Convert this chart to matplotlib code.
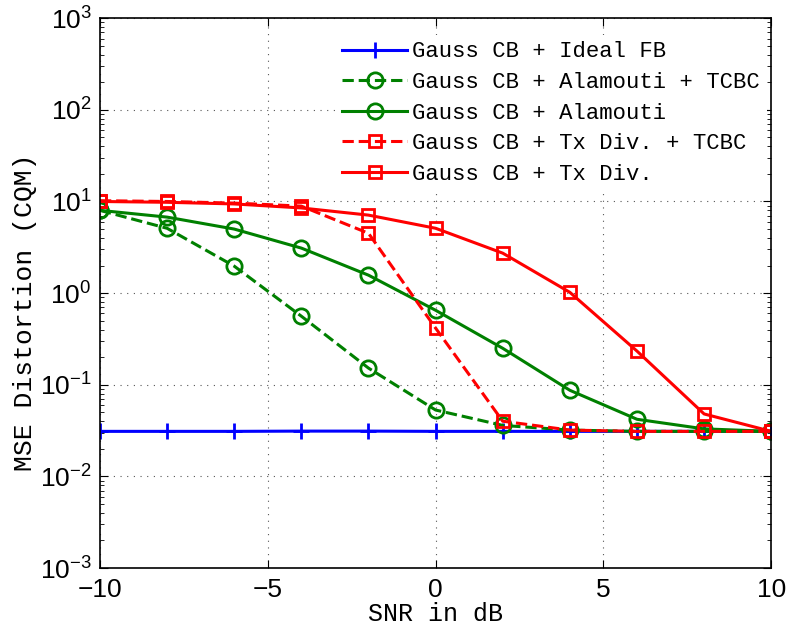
import matplotlib
matplotlib.use("Agg")
import matplotlib.pyplot as plt
import numpy as np

snr = [-10, -8, -6, -4, -2, 0, 2, 4, 6, 8, 10]
ideal_fb = [0.031, 0.031, 0.031, 0.0312, 0.0312, 0.031, 0.031, 0.031, 0.031, 0.031, 0.031]
alam_tcbc = [8.0, 5.1, 1.97, 0.56, 0.152, 0.053, 0.036, 0.032, 0.031, 0.031, 0.031]
alam = [8.0, 6.75, 5.0, 3.1, 1.57, 0.65, 0.25, 0.087, 0.042, 0.033, 0.031]
txdiv_tcbc = [10.2, 10.0, 9.6, 8.9, 4.5, 0.415, 0.040, 0.032, 0.031, 0.031, 0.031]
txdiv = [10.0, 9.8, 9.4, 8.5, 7.1, 5.1, 2.73, 1.02, 0.233, 0.048, 0.031]

labels = ["Gauss CB + Ideal FB", "Gauss CB + Alamouti + TCBC", "Gauss CB + Alamouti",
          "Gauss CB + Tx Div. + TCBC", "Gauss CB + Tx Div."]

plt.rcParams["font.family"] = ["Liberation Sans", "DejaVu Sans"]
plt.rcParams["mathtext.fontset"] = "custom"
plt.rcParams["mathtext.rm"] = "Liberation Sans"
plt.rcParams["mathtext.it"] = "Liberation Sans:italic"
plt.rcParams["mathtext.bf"] = "Liberation Sans:bold"
mono = "Liberation Mono"

fig = plt.figure(figsize=(7.87, 6.28), dpi=100)
ax = fig.add_axes([0.127, 0.0955, 0.853, 0.8755])

green = (0, 0.5, 0)
kw = dict(lw=2.2, markeredgewidth=2, markerfacecolor="none")
ax.semilogy(snr, ideal_fb, color="blue", marker="+", markersize=11, label=labels[0], **kw)
ax.semilogy(snr, alam_tcbc, color=green, ls="--", marker="o", markersize=11, label=labels[1], **kw)
ax.semilogy(snr, alam, color=green, ls="-", marker="o", markersize=11, label=labels[2], **kw)
ax.semilogy(snr, txdiv_tcbc, color="red", ls="--", marker="s", markersize=8, label=labels[3], **kw)
ax.semilogy(snr, txdiv, color="red", ls="-", marker="s", markersize=8, label=labels[4], **kw)

ax.set_xlim(-10, 10)
ax.set_ylim(1e-3, 1e3)
ax.set_xticks([-10, -5, 0, 5, 10])
ax.set_yticks([1e-3, 1e-2, 1e-1, 1e0, 1e1, 1e2, 1e3])
ax.grid(True, which="major", ls=(0, (1, 5)), color="#555555", lw=0.8)
ax.tick_params(which="both", direction="in", top=True, right=True, labelsize=19)
ax.tick_params(which="major", length=6)
ax.tick_params(which="minor", length=3)
ax.tick_params(axis="x", pad=7)
ax.tick_params(axis="y", pad=6)
for s in ax.spines.values():
    s.set_linewidth(1.2)

ax.set_xlabel("SNR in dB", fontfamily=mono, fontsize=18, labelpad=0)
ax.set_ylabel("MSE Distortion (CQM)", fontfamily=mono, fontsize=19)
ax.yaxis.set_label_coords(-0.094, 0.465)

leg = ax.legend(loc="upper right", bbox_to_anchor=(1.0, 0.978),
                prop={"family": mono, "size": 16}, frameon=True,
                fancybox=False, edgecolor="none", framealpha=1, handlelength=2.9,
                borderaxespad=0.2, borderpad=0.3, labelspacing=0.43, handletextpad=0.25)

fig.savefig("out.png", dpi=100)
